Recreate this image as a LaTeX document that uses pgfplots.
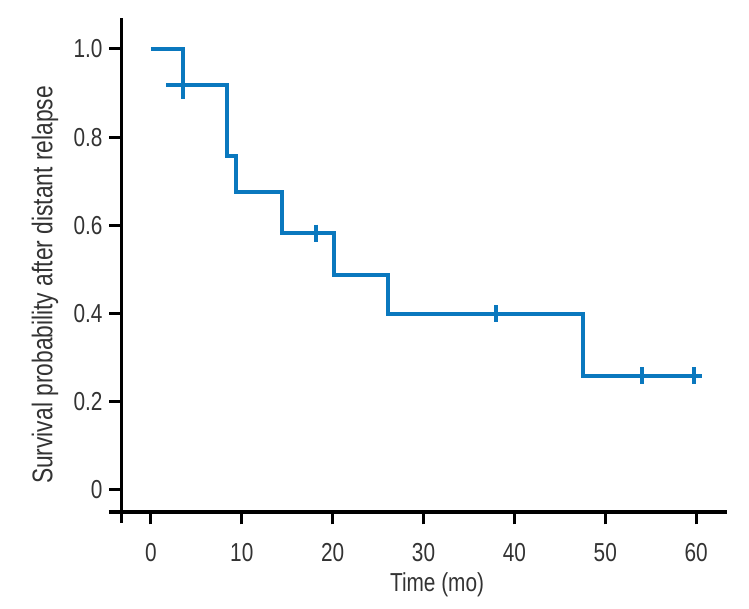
\documentclass[border=0pt]{standalone}
\usepackage{pgfplots}
\pgfplotsset{compat=1.18}
\usepackage{fontspec}
\setmainfont{Liberation Sans}[FakeStretch=0.8]
\definecolor{kmblue}{HTML}{0A78BE}
\definecolor{txt}{HTML}{333333}
\begin{document}
\begin{tikzpicture}
\begin{axis}[
  scale only axis, width=605.3pt, height=494pt,
  xmin=-3.22, xmax=63.4, ymin=-0.05, ymax=1.07,
  axis x line=bottom, axis y line=left,
  axis line style={-, line width=3.3pt, color=black},
  x axis line style={shorten <=-12.7pt},
  y axis line style={shorten <=-11pt},
  tick align=outside, major tick length=12.5pt,
  tick style={line width=3pt, black},
  xtick={0,10,20,30,40,50,60},
  ytick={0,0.2,0.4,0.6,0.8,1.0},
  yticklabels={0,0.2,0.4,0.6,0.8,1.0},
  /pgf/number format/assume math mode=true,
  ticklabel style={font=\fontsize{26}{30}\selectfont, text=txt},
  xticklabel style={anchor=center, yshift=-28pt},
  yticklabel style={xshift=-3.2pt},
  label style={font=\fontsize{26}{30}\selectfont, text=txt},
  xlabel={Time (mo)},
  ylabel={Survival probability after distant relapse},
  xlabel style={at={(axis description cs:0.521,-0.1478)}, anchor=center},
  ylabel style={at={(axis description cs:-0.1267,0.4595)}, anchor=center,
    font=\fontsize{28.5}{32}\selectfont},
  clip=false,
]
\path (rel axis cs:0,0) ++(-121.7pt,-97pt) rectangle ++(749pt,609pt);
\addplot[const plot, kmblue, line width=4pt] coordinates {
  (0,1.0) (3.5,0.918) (8.4,0.756) (9.4,0.675) (14.4,0.582)
  (20.2,0.4875) (26.1,0.399) (47.6,0.259) (60.7,0.259)
};
\addplot[kmblue, line width=4pt] coordinates {(1.7,0.918) (3.5,0.918)};
\addplot[only marks, mark=|, mark size=8.5pt, mark options={line width=4pt, kmblue}] coordinates {
  (3.5,0.905) (18.2,0.582) (38.0,0.399) (54.0,0.259) (59.8,0.259)
};
\end{axis}
\end{tikzpicture}
\end{document}
